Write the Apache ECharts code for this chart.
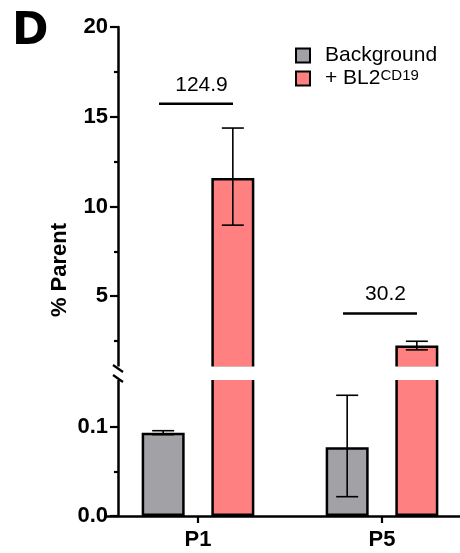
<!DOCTYPE html>
<html><head><meta charset="utf-8">
<script src="https://cdn.jsdelivr.net/npm/echarts@6/dist/echarts.min.js"></script>
<style>html,body{margin:0;padding:0;background:#fff}#c{width:460px;height:553px}</style>
</head><body><div id="c"></div>
<script>
// ---- data ----
const categories = ['P1', 'P5'];
const seriesNames = ['Background', '+ BL2'];
const backgroundMean = [0.0936, 0.0772];
const backgroundLow = [0.0914, 0.0217];
const backgroundHigh = [0.0958, 0.1356];
const bl2Mean = [11.58, 2.25];
const bl2Low = [8.96, 2.01];
const bl2High = [14.37, 2.49];
const foldChangeLabels = ['124.9', '30.2'];
const foldChangeY = [15.72, 4.03];
const upperTicks = [5, 10, 15, 20];
const upperMinorTicks = [2.5, 7.5, 12.5, 17.5];
const lowerTicks = [0, 0.1];
const lowerMinorTicks = [0.05];

// ---- layout / style ----
const FONT = 'Liberation Sans, Arial, sans-serif';
const GRAY = '#a1a1a6', RED = '#ff8080';
const GRID_LEFT = 106, GRID_W = 368, AXIS_OFFSET = -12;
const BAR_W = 43, BAR_GAP = 0.62;
const BAR_OFFSET = BAR_W * (1 + BAR_GAP) / 2;
const CAP = 11;

const chart = echarts.init(document.getElementById('c'), null, {renderer: 'canvas'});

function yAxisMain(grid, min, max, ticks, fmt) {
  return {
    type: 'value', gridIndex: grid, min: min, max: max, offset: AXIS_OFFSET, position: 'left',
    axisLine: {show: true, lineStyle: {color: '#000', width: 2.5}},
    axisTick: {show: true, length: 8, lineStyle: {color: '#000', width: 2.2}, customValues: ticks},
    axisLabel: {show: true, customValues: ticks, formatter: fmt, margin: 10,
      color: '#000', fontFamily: FONT, fontWeight: 'bold', fontSize: 22},
    splitLine: {show: false}
  };
}
function yAxisMinor(grid, min, max, ticks) {
  return {
    type: 'value', gridIndex: grid, min: min, max: max, offset: AXIS_OFFSET, position: 'left',
    axisLine: {show: false},
    axisTick: {show: true, length: 4, lineStyle: {color: '#000', width: 2.2}, customValues: ticks},
    axisLabel: {show: false},
    splitLine: {show: false}
  };
}

function errorRender(side) {
  return function (params, api) {
    const c = api.value(0);
    const lo = api.coord([c, api.value(1)]);
    const hi = api.coord([c, api.value(2)]);
    const x = lo[0] + side * BAR_OFFSET;
    const st = {stroke: '#000', lineWidth: 1.6};
    return {type: 'group', children: [
      {type: 'line', shape: {x1: x, y1: lo[1], x2: x, y2: hi[1]}, style: st},
      {type: 'line', shape: {x1: x - CAP, y1: hi[1], x2: x + CAP, y2: hi[1]}, style: st},
      {type: 'line', shape: {x1: x - CAP, y1: lo[1], x2: x + CAP, y2: lo[1]}, style: st}
    ]};
  };
}

function barSeries(name, data, color, xi, yi) {
  return {
    type: 'bar', name: name, data: data, xAxisIndex: xi, yAxisIndex: yi,
    barWidth: BAR_W, barGap: (BAR_GAP * 100) + '%',
    itemStyle: {color: color, borderColor: '#000', borderWidth: 2.5},
    clip: true, animation: false, z: 2
  };
}

const option = {
  animation: false,
  backgroundColor: '#fff',
  title: {text: 'D', left: 12, top: 11, padding: 0,
    textStyle: {fontFamily: 'DejaVu Sans, sans-serif', fontWeight: 'bold', fontSize: 44, color: '#000'}},
  legend: {
    orient: 'vertical', left: 295, top: 45, padding: 0, itemWidth: 14, itemHeight: 14, itemGap: 2,
    icon: 'rect', selectedMode: false,
    itemStyle: {borderColor: '#000', borderWidth: 2},
    data: seriesNames,
    formatter: function (n) { return n === '+ BL2' ? '{b|+ BL2}{s|CD19}' : '{b|' + n + '}'; },
    textStyle: {fontFamily: FONT, color: '#000',
      rich: {
        b: {fontSize: 21, lineHeight: 21, fontFamily: FONT, color: '#000', padding: [0, 0, 0, 10]},
        s: {fontSize: 15, lineHeight: 11, verticalAlign: 'top', fontFamily: FONT, color: '#000'}
      }}
  },
  grid: [
    {left: GRID_LEFT, width: GRID_W, top: 27, height: 341, outerBoundsMode: 'none', containLabel: false},
    {left: GRID_LEFT, width: GRID_W, top: 378, height: 138, outerBoundsMode: 'none', containLabel: false}
  ],
  xAxis: [
    {type: 'category', gridIndex: 0, data: categories, show: false},
    {type: 'category', gridIndex: 1, data: categories,
      axisLine: {show: true, lineStyle: {color: '#000', width: 2.5}},
      axisTick: {show: true, alignWithLabel: true, length: 7, lineStyle: {color: '#000', width: 2.2}},
      axisLabel: {color: '#000', fontFamily: FONT, fontWeight: 'bold', fontSize: 22, margin: 13}}
  ],
  yAxis: [
    yAxisMain(0, 1, 20, upperTicks, function (v) { return String(v); }),
    yAxisMinor(0, 1, 20, upperMinorTicks),
    yAxisMain(1, 0, 0.155, lowerTicks, function (v) { return v.toFixed(1); }),
    yAxisMinor(1, 0, 0.155, lowerMinorTicks)
  ],
  series: [
    barSeries(seriesNames[0], backgroundMean, GRAY, 1, 2),
    barSeries(seriesNames[1], bl2Mean, RED, 1, 2),
    barSeries(seriesNames[0], backgroundMean, GRAY, 0, 0),
    barSeries(seriesNames[1], bl2Mean, RED, 0, 0),
    {type: 'custom', name: 'bgErr', xAxisIndex: 1, yAxisIndex: 2, z: 10,
      renderItem: errorRender(-1), encode: {x: 0, y: [1, 2]},
      data: categories.map((c, i) => [i, backgroundLow[i], backgroundHigh[i]])},
    {type: 'custom', name: 'blErr', xAxisIndex: 0, yAxisIndex: 0, z: 10,
      renderItem: errorRender(1), encode: {x: 0, y: [1, 2]},
      data: categories.map((c, i) => [i, bl2Low[i], bl2High[i]])},
    {type: 'custom', name: 'fold', xAxisIndex: 0, yAxisIndex: 0, z: 10,
      encode: {x: 0, y: 1},
      data: categories.map((c, i) => [i, foldChangeY[i]]),
      renderItem: function (params, api) {
        const p = api.coord([api.value(0), api.value(1)]);
        const cx = p[0] - 2;
        return {type: 'group', children: [
          {type: 'line', shape: {x1: cx - 37, y1: p[1], x2: cx + 37, y2: p[1]},
            style: {stroke: '#000', lineWidth: 2.5}},
          {type: 'text', x: p[0] + 3.5, y: p[1] - 19,
            style: {text: foldChangeLabels[params.dataIndex], fill: '#000',
              font: '21px ' + FONT, textAlign: 'center', textVerticalAlign: 'middle'}}
        ]};
      }}
  ],
  graphic: [
    {type: 'rect', z: 100, shape: {x: 100, y: 366.5, width: 360, height: 13.5}, style: {fill: '#fff'}},
    {type: 'line', z: 101, shape: {x1: 113, y1: 365, x2: 123, y2: 372}, style: {stroke: '#000', lineWidth: 2.2}},
    {type: 'line', z: 101, shape: {x1: 113, y1: 375, x2: 123, y2: 382}, style: {stroke: '#000', lineWidth: 2.2}},
    {type: 'text', z: 101, x: 60, y: 270, rotation: Math.PI / 2,
      style: {text: '% Parent', fill: '#000', font: 'bold 22px ' + FONT,
        textAlign: 'center', textVerticalAlign: 'middle'}}
  ]
};
chart.setOption(option);
</script></body></html>
